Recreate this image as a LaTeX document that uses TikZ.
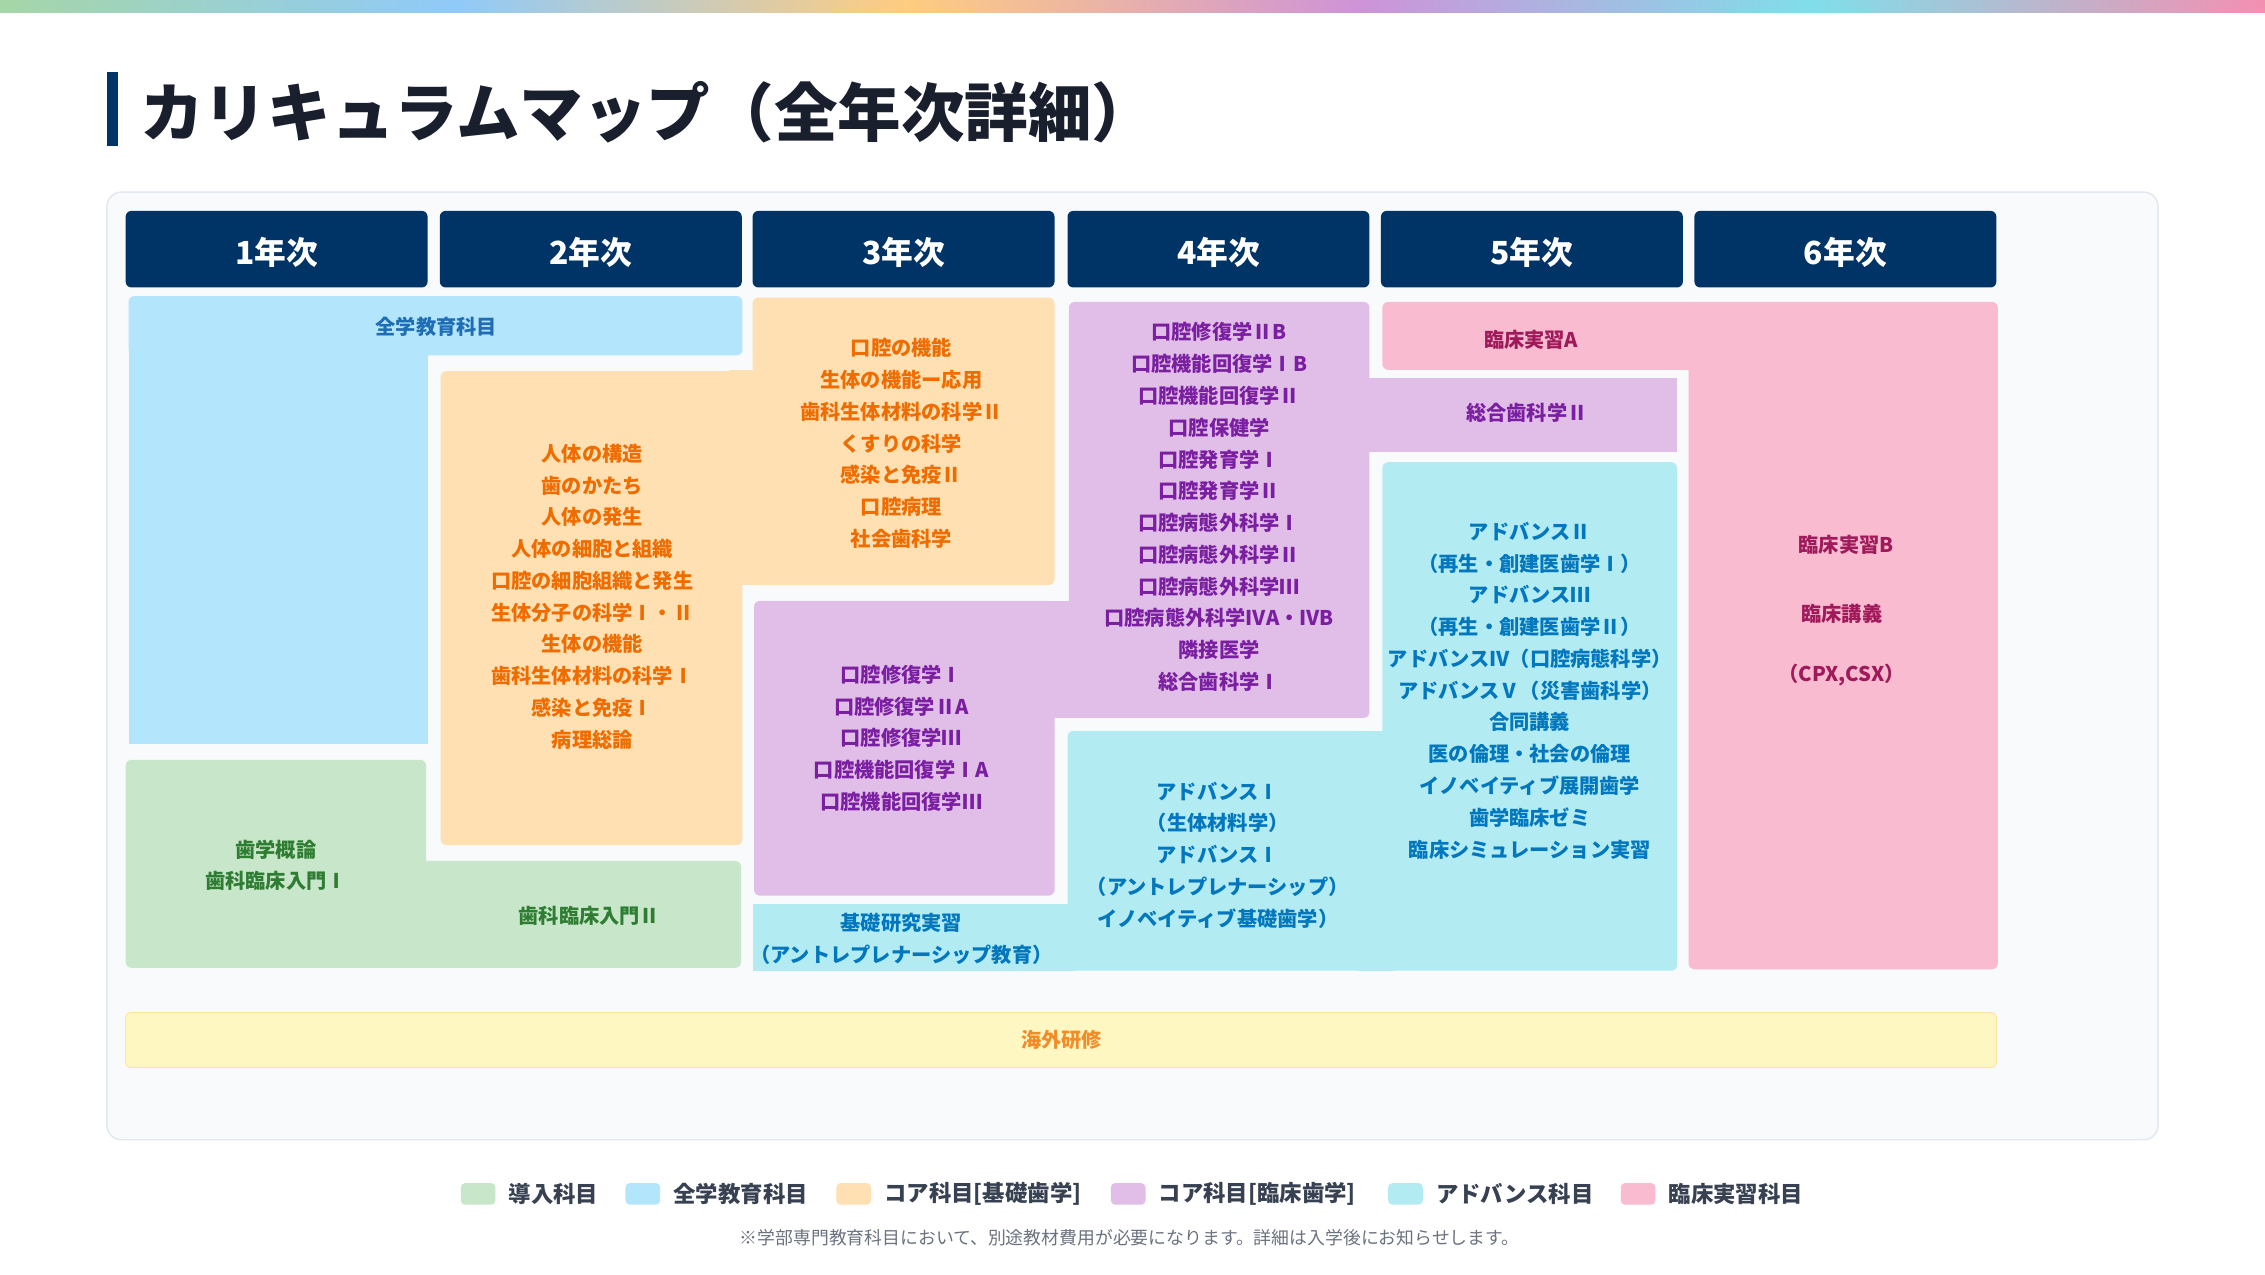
\documentclass[tikz,border=0pt]{standalone}
\usepackage{fontspec}
\setmainfont{Noto Sans CJK JP}
\definecolor{navy}{HTML}{003366}
\definecolor{titlec}{HTML}{1A1F2E}
\definecolor{panelf}{HTML}{F8FAFC}
\definecolor{paneld}{HTML}{E2E8F0}
\definecolor{fblue}{HTML}{B3E5FC}
\definecolor{forange}{HTML}{FFE0B2}
\definecolor{fpurple}{HTML}{E1BEE7}
\definecolor{fcyan}{HTML}{B2EBF2}
\definecolor{fpink}{HTML}{F8BBD0}
\definecolor{fgreen}{HTML}{C8E6C9}
\definecolor{fyellow}{HTML}{FFF7C2}
\definecolor{tblue}{HTML}{1E6DB5}
\definecolor{torange}{HTML}{EF6C00}
\definecolor{tpurple}{HTML}{7B1FA2}
\definecolor{tcyan}{HTML}{0277BD}
\definecolor{tpink}{HTML}{A0195A}
\definecolor{tgreen}{HTML}{2E7D32}
\definecolor{tyellow}{HTML}{F28C28}
\definecolor{legt}{HTML}{374151}
\definecolor{foot}{HTML}{6B7280}
\definecolor{g1}{HTML}{A5D6A7}
\definecolor{g2}{HTML}{90CAF9}
\definecolor{g3}{HTML}{FFCC80}
\definecolor{g4}{HTML}{CE93D8}
\definecolor{g5}{HTML}{80DEEA}
\definecolor{g6}{HTML}{F48FB1}
\pgfdeclarehorizontalshading{topbar}{100bp}{color(0bp)=(g1); color(25bp)=(g1); color(35bp)=(g2); color(45bp)=(g3); color(55bp)=(g4); color(65bp)=(g5); color(75bp)=(g6); color(100bp)=(g6)}
\begin{document}
\begin{tikzpicture}[x=1pt,y=-1pt,
  hdr/.style={fill=navy, rounded corners=4pt, minimum width=209pt, minimum height=53pt, inner sep=0pt},
  hdrtxt/.style={text=white, inner sep=0pt, yshift=-2.5pt, font=\bfseries\fontsize{22}{26}\selectfont},
  txt/.style={font=\bfseries\fontsize{14}{22}\selectfont, align=center, inner sep=0pt},
  blk/.style={rounded corners=4pt},
  legbox/.style={rounded corners=3pt, minimum width=24pt, minimum height=15pt, inner sep=0pt},
  legtxt/.style={anchor=west, inner sep=0pt, text=legt, font=\bfseries\fontsize{15.5}{18}\selectfont}]
\useasboundingbox (0,0) rectangle (1568,882);
\fill[white] (0,0) rectangle (1568,882);
% top gradient bar
\shade[shading=topbar] (0,0) rectangle (1568,9);
% title
\fill[navy] (74,50) rectangle (82,101);
\node[anchor=west, inner sep=0pt, text=titlec, font=\bfseries\fontsize{44}{48}\selectfont] (title) at (97,78) {カリキュラムマップ（全年次詳細）};
% panel
\draw[fill=panelf, draw=paneld, line width=1pt, rounded corners=10pt] (74,133) rectangle (1494,789);
% headers
\node[hdr, label={[hdrtxt]center:1年次}] (h1) at (191.5,172.5) {};
\node[hdr, label={[hdrtxt]center:2年次}] (h2) at (409,172.5) {};
\node[hdr, label={[hdrtxt]center:3年次}] (h3) at (625.5,172.5) {};
\node[hdr, label={[hdrtxt]center:4年次}] (h4) at (843.5,172.5) {};
\node[hdr, label={[hdrtxt]center:5年次}] (h5) at (1060.5,172.5) {};
\node[hdr, label={[hdrtxt]center:6年次}] (h6) at (1277.5,172.5) {};
% blue
\fill[fblue] (89,215) rectangle (296,515);
\fill[fblue, blk] (89,205) rectangle (514,246);
% orange
\fill[forange, blk] (305,257) rectangle (514,585);
\fill[forange, blk] (521,206) rectangle (730,405);
\fill[forange] (505,256) rectangle (526,405);
% purple
\fill[fpurple, blk] (522,416) rectangle (730,620);
\fill[fpurple, blk] (740,209) rectangle (948,497);
\fill[fpurple] (722,416) rectangle (748,497);
\fill[fpurple] (940,262) rectangle (1161,313);
% cyan
\fill[fcyan] (521,626) rectangle (745,672);
\fill[fcyan, blk] (739,506) rectangle (948,672);
\fill[fcyan, blk] (957,320) rectangle (1161,672);
\fill[fcyan] (940,506) rectangle (965,672);
% pink
\fill[fpink, blk] (957,209) rectangle (1175,256);
\fill[fpink, blk] (1169,209) rectangle (1383,671);
% green
\fill[fgreen, blk] (87,526) rectangle (295,670);
\fill[fgreen, blk] (288,596) rectangle (513,670);
\fill[fgreen] (280,600) rectangle (300,670);
% yellow
\draw[fill=fyellow, draw=fyellow!85!orange, line width=0.6pt, rounded corners=3pt] (87,701) rectangle (1382,739);
% texts
\node[txt, text=tblue] (t1) at (302,226) {全学教育科目};
\node[txt, text=torange] (t2) at (410,413) {人体の構造\\歯のかたち\\人体の発生\\人体の細胞と組織\\口腔の細胞組織と発生\\生体分子の科学Ⅰ・Ⅱ\\生体の機能\\歯科生体材料の科学Ⅰ\\感染と免疫Ⅰ\\病理総論};
\node[txt, text=torange] (t3) at (624,307) {口腔の機能\\生体の機能ー応用\\歯科生体材料の科学Ⅱ\\くすりの科学\\感染と免疫Ⅱ\\口腔病理\\社会歯科学};
\node[txt, text=tpurple] (t4) at (624,511) {口腔修復学Ⅰ\\口腔修復学ⅡA\\口腔修復学Ⅲ\\口腔機能回復学ⅠA\\口腔機能回復学Ⅲ};
\node[txt, text=tcyan] (t5) at (624,650) {基礎研究実習\\（アントレプレナーシップ教育）};
\node[txt, text=tpurple] (t6) at (844,351) {口腔修復学ⅡB\\口腔機能回復学ⅠB\\口腔機能回復学Ⅱ\\口腔保健学\\口腔発育学Ⅰ\\口腔発育学Ⅱ\\口腔病態外科学Ⅰ\\口腔病態外科学Ⅱ\\口腔病態外科学Ⅲ\\口腔病態外科学ⅣA・ⅣB\\隣接医学\\総合歯科学Ⅰ};
\node[txt, text=tcyan] (t7) at (843,592) {アドバンスⅠ\\（生体材料学）\\アドバンスⅠ\\（アントレプレナーシップ）\\イノベイティブ基礎歯学）};
\node[txt, text=tpurple] (t8) at (1057,286) {総合歯科学Ⅱ};
\node[txt, text=tcyan] (t9) at (1059,478) {アドバンスⅡ\\（再生・創建医歯学Ⅰ）\\アドバンスⅢ\\（再生・創建医歯学Ⅱ）\\アドバンスⅣ（口腔病態科学）\\アドバンスⅤ（災害歯科学）\\合同講義\\医の倫理・社会の倫理\\イノベイティブ展開歯学\\歯学臨床ゼミ\\臨床シミュレーション実習};
\node[txt, text=tpink] (t10) at (1060,235) {臨床実習A};
\node[txt, text=tpink] (t11) at (1278,377) {臨床実習B};
\node[txt, text=tpink] (t12) at (1275,425) {臨床講義};
\node[txt, text=tpink] (t13) at (1275,467) {（CPX,CSX）};
\node[txt, text=tgreen] (t14) at (191,599) {歯学概論\\歯科臨床入門Ⅰ};
\node[txt, text=tgreen] (t15) at (408,634) {歯科臨床入門Ⅱ};
\node[txt, text=tyellow] (t16) at (735,720) {海外研修};
% legend
\node[legbox, fill=fgreen] (l1) at (331,826.5) {};
\node[legtxt] (lt1) at (352,826.5) {導入科目};
\node[legbox, fill=fblue] (l2) at (445,826.5) {};
\node[legtxt] (lt2) at (466,826.5) {全学教育科目};
\node[legbox, fill=forange] (l3) at (591,826.5) {};
\node[legtxt] (lt3) at (612,826.5) {コア科目[基礎歯学]};
\node[legbox, fill=fpurple] (l4) at (781,826.5) {};
\node[legtxt] (lt4) at (802,826.5) {コア科目[臨床歯学]};
\node[legbox, fill=fcyan] (l5) at (973,826.5) {};
\node[legtxt] (lt5) at (994,826.5) {アドバンス科目};
\node[legbox, fill=fpink] (l6) at (1134,826.5) {};
\node[legtxt] (lt6) at (1155,826.5) {臨床実習科目};
\node[inner sep=0pt, text=foot, font=\fontsize{12.35}{15}\selectfont] (fn) at (782,857) {※学部専門教育科目において、別途教材費用が必要になります。詳細は入学後にお知らせします。};
\end{tikzpicture}
\end{document}
